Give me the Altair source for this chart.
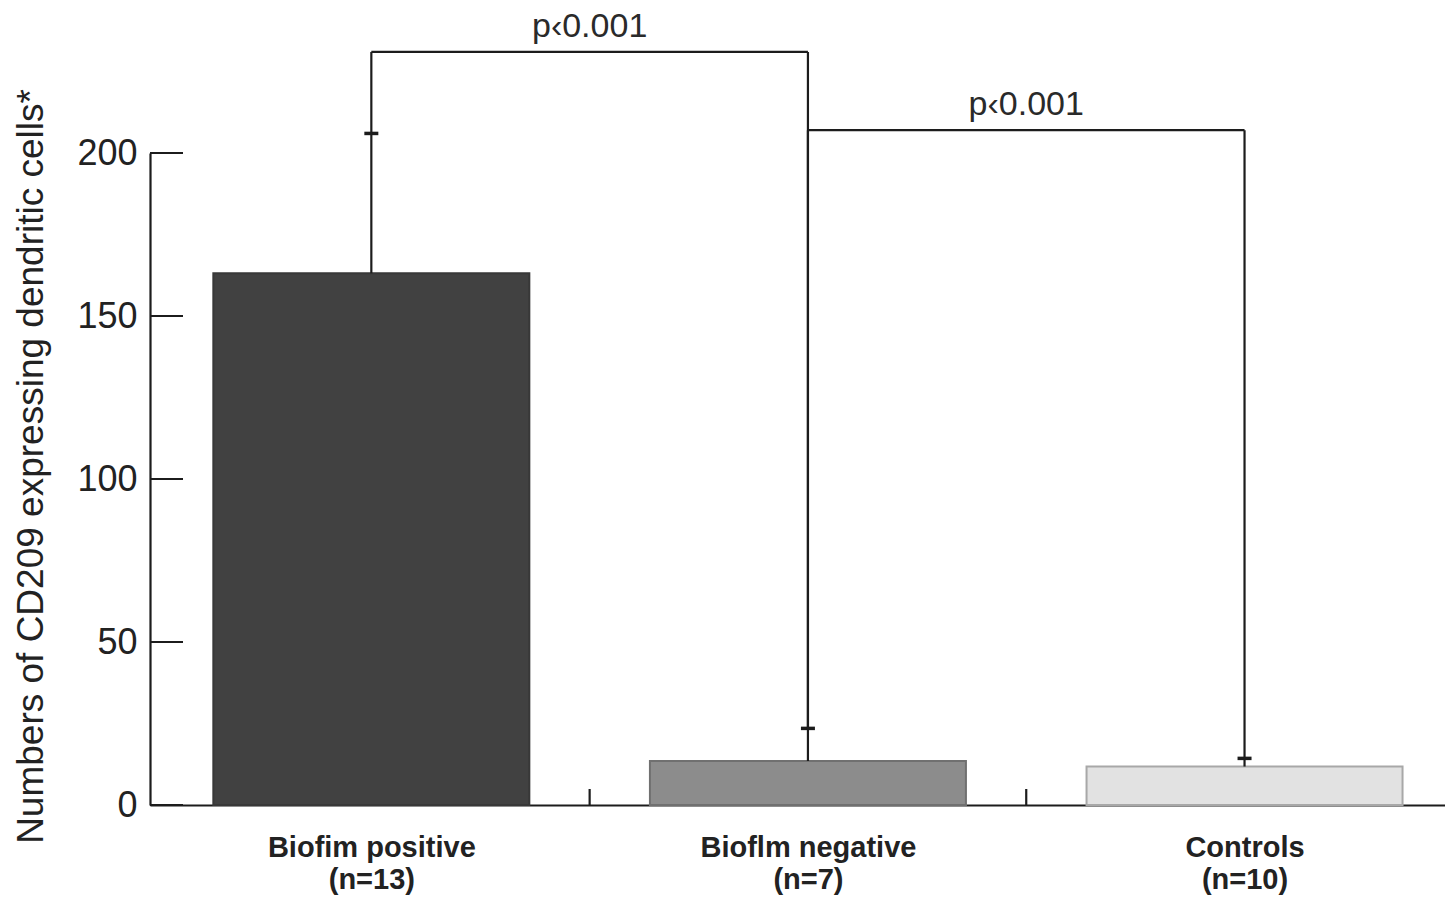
import json
import altair as alt
import pandas as pd

# ---- data ----
categories = ["Biofim positive", "Bioflm negative", "Controls"]
group_sizes = ["(n=13)", "(n=7)", "(n=10)"]
means = [163.1, 13.5, 11.8]
upper_error = [206.0, 23.5, 14.3]
bar_colors = ["#414141", "#8c8c8c", "#e2e2e2"]
bar_strokes = ["#383838", "#707070", "#a8a8a8"]
y_tick_values = [0, 50, 100, 150, 200]
compare_from = ["Biofim positive", "Bioflm negative"]
compare_to = ["Bioflm negative", "Controls"]
bracket_heights = [231, 207]
p_labels = ["p\u20390.001", "p\u20390.001"]

FONT = "Liberation Sans"
INK = "#1c1c1c"

idx = {c: i for i, c in enumerate(categories)}
df = pd.DataFrame({
    "idx": list(range(len(categories))),
    "cat": categories,
    "mean": means,
    "err": upper_error,
    "fill": bar_colors,
    "line": bar_strokes,
})

# bracket segments built from the comparison lists
seg_rows = []
txt_rows = []
for a, b, h, p in zip(compare_from, compare_to, bracket_heights, p_labels):
    ia, ib = idx[a], idx[b]
    seg_rows.append({"x": ia, "x2": ib, "y": h, "y2": h})
    seg_rows.append({"x": ia, "x2": ia, "y": upper_error[ia], "y2": h})
    seg_rows.append({"x": ib, "x2": ib, "y": upper_error[ib], "y2": h})
    txt_rows.append({"x": (ia + ib) / 2, "y": h, "t": p})
seg_df = pd.DataFrame(seg_rows)
txt_df = pd.DataFrame(txt_rows)
ytick_df = pd.DataFrame({"v": y_tick_values})
divider_df = pd.DataFrame({"v": [(i + i + 1) / 2 for i in range(len(categories) - 1)]})

W, H = 1295, 652
xscale = alt.Scale(domain=[-0.4955, 2.4477], nice=False, zero=False)
yscale = alt.Scale(domain=[0, 200], nice=False, zero=True)

label_arr = json.dumps([[c, n] for c, n in zip(categories, group_sizes)])

xaxis = alt.Axis(
    values=list(range(len(categories))),
    labelExpr=label_arr + "[datum.value]",
    ticks=False, tickSize=0, grid=False,
    domainColor=INK, domainWidth=2.2,
    labelFont=FONT, labelFontSize=29, labelFontWeight="bold", labelColor="#222222",
    labelBaseline="alphabetic", labelPadding=51, labelLineHeight=32, labelLimit=0,
    labelFlush=False, labelOverlap=False, title=None,
)
yaxis = alt.Axis(
    values=y_tick_values,
    ticks=False, tickSize=0, grid=False,
    domainColor=INK, domainWidth=2.2,
    labelFont=FONT, labelFontSize=36, labelColor="#222222", labelPadding=13,
    title="Numbers of CD209 expressing dendritic cells*",
    titleFont=FONT, titleFontSize=37, titleFontWeight="normal", titleColor="#222222",
    titleAngle=-90, titleBaseline="alphabetic", titleAlign="center",
    titleX=-108, titleY=313,
)

bars = alt.Chart(df).mark_bar(size=316, strokeWidth=2).encode(
    x=alt.X("idx:Q", scale=xscale, axis=xaxis),
    y=alt.Y("mean:Q", scale=yscale, axis=yaxis),
    color=alt.Color("fill:N", scale=None),
    stroke=alt.Stroke("line:N", scale=None),
)

err_rules = alt.Chart(df).mark_rule(color=INK, strokeWidth=2.2).encode(
    x=alt.X("idx:Q", scale=xscale, axis=xaxis),
    y=alt.Y("mean:Q", scale=yscale, axis=yaxis),
    y2="err:Q",
)
err_caps = alt.Chart(df).mark_tick(orient="horizontal", size=14, thickness=3.5, color=INK, opacity=1).encode(
    x=alt.X("idx:Q", scale=xscale, axis=xaxis),
    y=alt.Y("err:Q", scale=yscale, axis=yaxis),
)

brackets = alt.Chart(seg_df).mark_rule(color=INK, strokeWidth=2.2).encode(
    x=alt.X("x:Q", scale=xscale, axis=xaxis),
    x2="x2:Q",
    y=alt.Y("y:Q", scale=yscale, axis=yaxis),
    y2="y2:Q",
)

ptext = alt.Chart(txt_df).mark_text(
    font=FONT, fontSize=34, color="#2a2a2a", baseline="alphabetic", align="center", dy=-15
).encode(
    x=alt.X("x:Q", scale=xscale, axis=xaxis),
    y=alt.Y("y:Q", scale=yscale, axis=yaxis),
    text="t:N",
)

y_inner_ticks = alt.Chart(ytick_df).mark_rule(color=INK, strokeWidth=2.2).encode(
    y=alt.Y("v:Q", scale=yscale, axis=yaxis),
    x=alt.value(0),
    x2=alt.value(33),
)

x_dividers = alt.Chart(divider_df).mark_rule(color=INK, strokeWidth=2.2).encode(
    x=alt.X("v:Q", scale=xscale, axis=xaxis),
    y=alt.value(H),
    y2=alt.value(H - 16),
)

chart = alt.layer(
    bars, err_rules, err_caps, brackets, ptext, y_inner_ticks, x_dividers
).properties(
    width=W, height=H,
    autosize=alt.AutoSizeParams(type="none"),
    padding={"left": 142, "top": 145, "right": 0, "bottom": 91},
    background="white",
).configure_view(stroke=None)

chart.save("out.html", embed_options={"renderer": "svg", "actions": False})
